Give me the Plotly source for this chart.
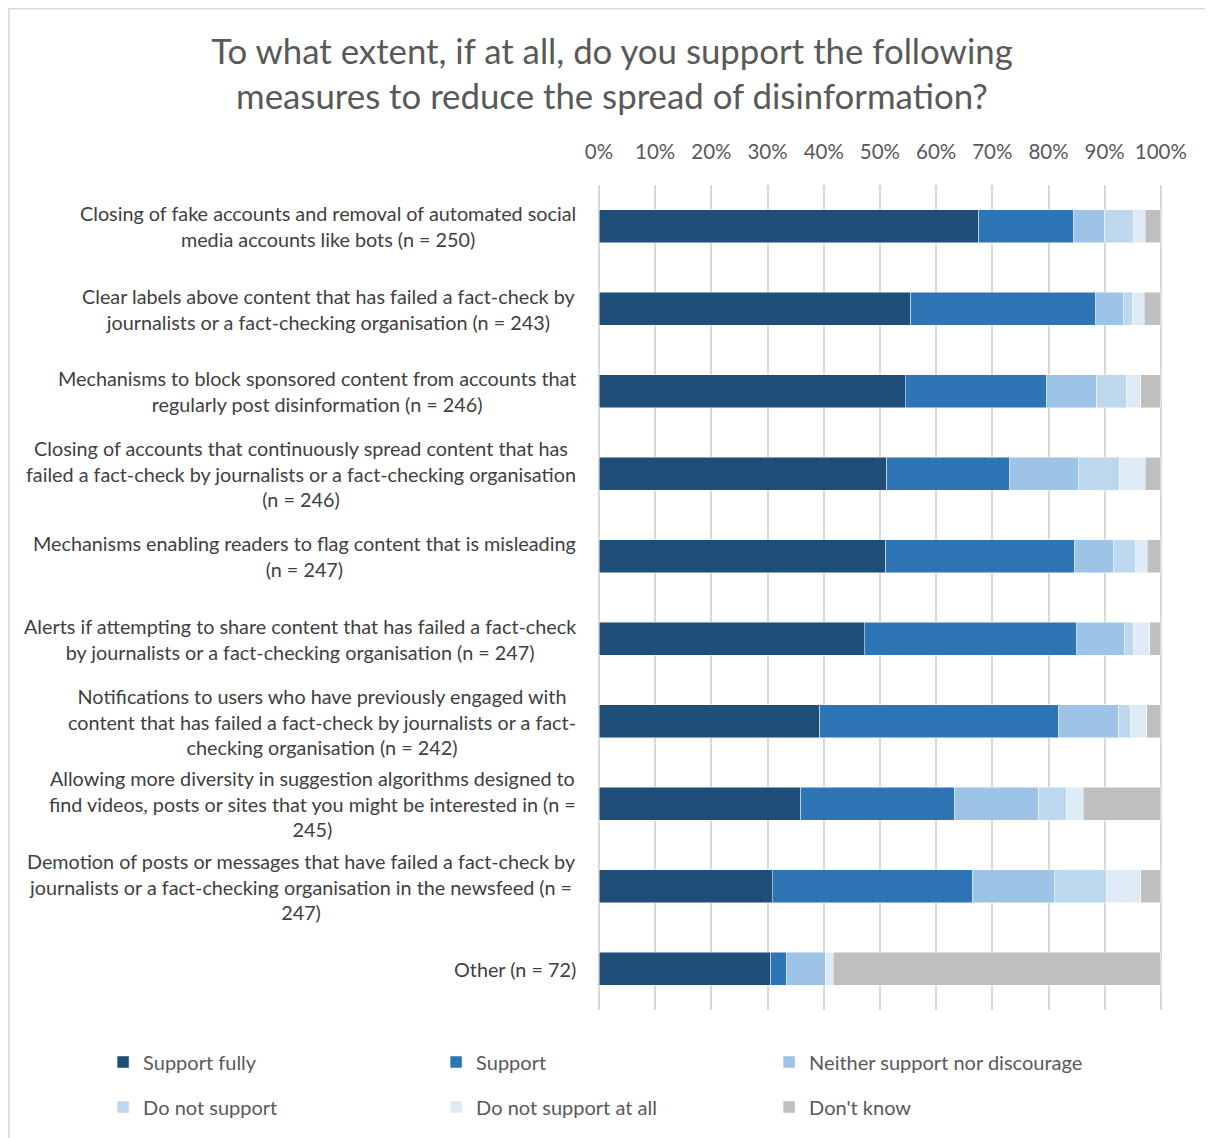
import plotly.graph_objects as go

categories = [
    "Closing of fake accounts and removal of automated social<br>media accounts like bots (n = 250)",
    "Clear labels above content that has failed a fact-check by<br>journalists or a fact-checking organisation (n = 243)",
    "Mechanisms to block sponsored content from accounts that<br>regularly post disinformation (n = 246)",
    "Closing of accounts that continuously spread content that has<br>failed a fact-check by journalists or a fact-checking organisation<br>(n = 246)",
    "Mechanisms enabling readers to flag content that is misleading<br>(n = 247)",
    "Alerts if attempting to share content that has failed a fact-check<br>by journalists or a fact-checking organisation (n = 247)",
    "Notifications to users who have previously engaged with<br>content that has failed a fact-check by journalists or a fact-<br>checking organisation (n = 242)",
    "Allowing more diversity in suggestion algorithms designed to<br>find videos, posts or sites that you might be interested in (n =<br>245)",
    "Demotion of posts or messages that have failed a fact-check by<br>journalists or a fact-checking organisation in the newsfeed (n =<br>247)",
    "Other (n = 72)",
]
cat_ids = [f"c{i}" for i in range(len(categories))]

support_fully = [0.676, 0.555, 0.545, 0.512, 0.510, 0.472, 0.393, 0.359, 0.308, 0.306]
support = [0.168, 0.329, 0.252, 0.219, 0.336, 0.378, 0.424, 0.273, 0.356, 0.028]
neither = [0.056, 0.049, 0.089, 0.122, 0.069, 0.085, 0.108, 0.151, 0.146, 0.069]
do_not_support = [0.052, 0.016, 0.053, 0.073, 0.040, 0.016, 0.021, 0.049, 0.093, 0.0]
not_at_all = [0.020, 0.021, 0.025, 0.046, 0.021, 0.029, 0.029, 0.030, 0.061, 0.014]
dont_know = [0.028, 0.030, 0.036, 0.028, 0.024, 0.020, 0.025, 0.138, 0.036, 0.583]

series = [
    ("Support fully", support_fully, "#1F4E79", "legend"),
    ("Support", support, "#2E75B6", "legend"),
    ("Neither support nor discourage", neither, "#9DC3E6", "legend"),
    ("Do not support", do_not_support, "#BDD7EE", "legend2"),
    ("Do not support at all", not_at_all, "#DEEBF7", "legend2"),
    ("Don't know", dont_know, "#BFBFBF", "legend2"),
]

FONT = "Lato, 'Open Sans', sans-serif"

fig = go.Figure()
for name, vals, color, leg in series:
    fig.add_trace(go.Bar(
        name=name, y=cat_ids, x=vals, orientation="h",
        marker=dict(color=color, line=dict(color="rgba(255,255,255,0.6)", width=0.8)),
        legend=leg,
    ))

OFF = 8  # page body margin
W, H = 1205, 1130
L, T = 591, 177
XMAX = 1.002
pw = 562 * XMAX
R = W - L - pw
B = H - T - 825
ph = H - T - B

def px_x(p):
    return (p - OFF - L) / pw

def px_y(p):
    return 1 - (p - OFF - T) / ph

annotations = []
for cid, label in zip(cat_ids, categories):
    annotations.append(dict(
        text=label, x=px_x(578), xref="paper", y=cid, yref="y",
        xanchor="right", yanchor="middle", align="center", showarrow=False,
        font=dict(family=FONT, size=19.8, color="#404040"),
    ))

fig.update_layout(
    width=W, height=H,
    margin=dict(l=L, r=R, t=T, b=B, autoexpand=False),
    paper_bgcolor="white", plot_bgcolor="white",
    barmode="stack", bargap=0.6,
    title=dict(
        text="To what extent, if at all, do you support the following<br>measures to reduce the spread of disinformation?",
        x=(612 - OFF) / W, xanchor="center", xref="container",
        y=1 - (64 - OFF) / H, yanchor="middle", yref="container",
        font=dict(family=FONT, size=34.8, color="#595959"),
    ),
    xaxis=dict(
        side="top", range=[0, XMAX], dtick=0.1, tick0=0, tickformat=".0%",
        showgrid=True, gridcolor="#D9D9D9", gridwidth=1.5,
        zeroline=True, zerolinecolor="#D9D9D9", zerolinewidth=1.5,
        showline=False, ticks="outside", ticklen=17, tickcolor="rgba(0,0,0,0)",
        tickfont=dict(family=FONT, size=20.5, color="#595959"),
        fixedrange=True,
    ),
    yaxis=dict(
        categoryorder="array", categoryarray=cat_ids, autorange="reversed",
        showticklabels=False, showgrid=False, zeroline=False, showline=False,
        fixedrange=True,
    ),
    legend=dict(
        orientation="h", x=px_x(103), xanchor="left", y=px_y(1062), yanchor="middle",
        entrywidth=288, entrywidthmode="pixels", traceorder="normal",
        font=dict(family=FONT, size=20, color="#595959"), bgcolor="rgba(0,0,0,0)",
    ),
    legend2=dict(
        orientation="h", x=px_x(103), xanchor="left", y=px_y(1107), yanchor="middle",
        entrywidth=288, entrywidthmode="pixels", traceorder="normal",
        font=dict(family=FONT, size=20, color="#595959"), bgcolor="rgba(0,0,0,0)",
    ),
    annotations=annotations,
    shapes=[dict(
        type="rect", xref="paper", yref="paper",
        x0=px_x(8.75), x1=px_x(1240), y0=px_y(8.75), y1=px_y(1170),
        line=dict(color="#D9D9D9", width=1.5), fillcolor="rgba(0,0,0,0)", layer="below",
    )],
    showlegend=True,
)

fig.write_html("out.html")
